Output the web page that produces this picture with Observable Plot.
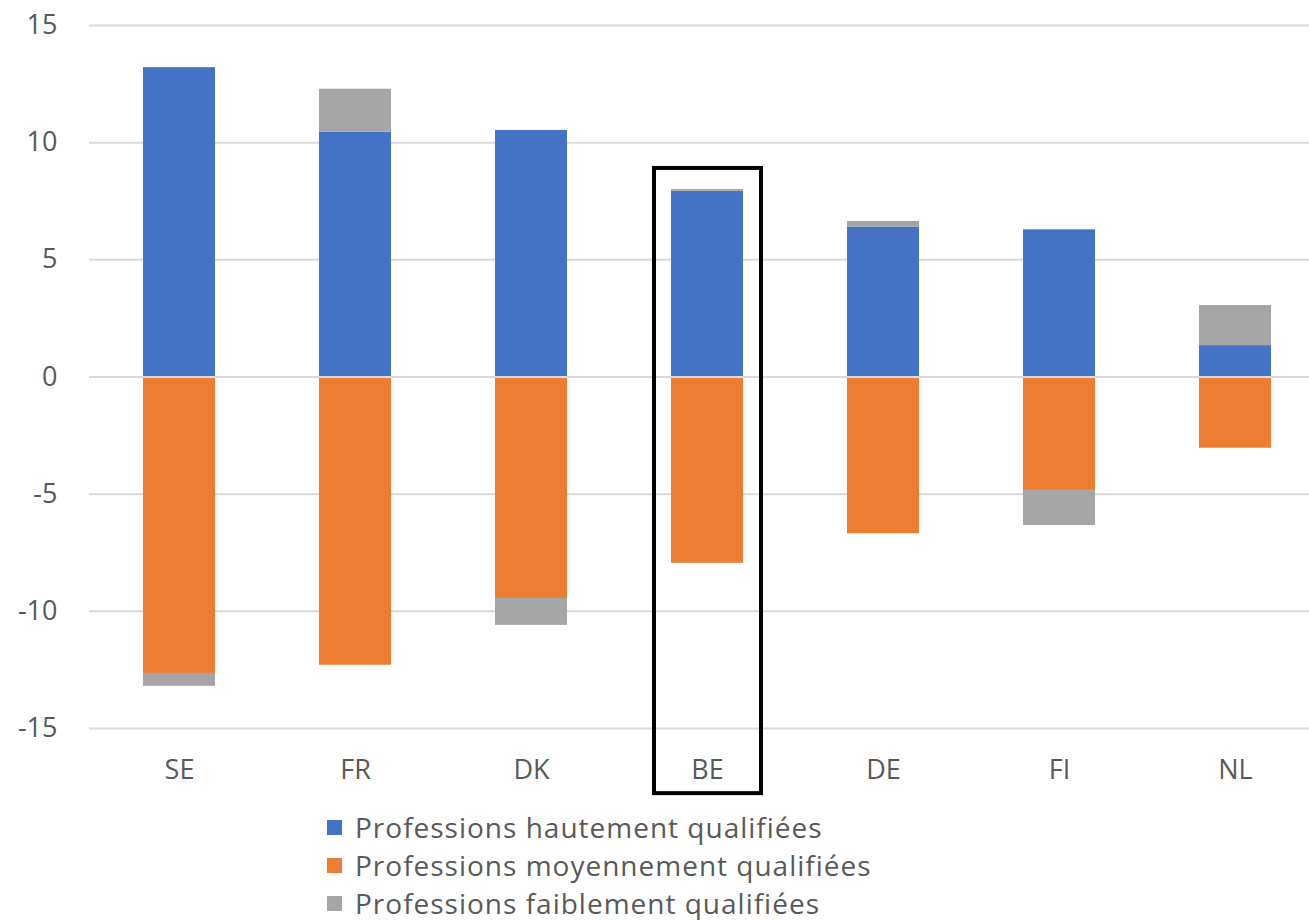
<!DOCTYPE html>
<html>
<head>
<meta charset="utf-8">
<script src="https://cdn.jsdelivr.net/npm/d3@7"></script>
<script src="https://cdn.jsdelivr.net/npm/@observablehq/plot@0.6"></script>
<style>
  html, body { margin: 0; padding: 0; background: #fff; }
  #chart { width: 1309px; font-family: "Open Sans", "Noto Sans", sans-serif; }
  .legend { margin-left: 327px; margin-top: 8px; }
  .legend .row { display: flex; align-items: center; height: 38px; font-size: 28px; letter-spacing: 1px; color: #595959; }
  .legend .sw { width: 15px; height: 15px; margin-right: 13px; }
</style>
</head>
<body>
<div id="chart"></div>
<script>
const countries = ["SE", "FR", "DK", "BE", "DE", "FI", "NL"];
const seriesNames = ["Professions hautement qualifiées", "Professions moyennement qualifiées", "Professions faiblement qualifiées"];
const seriesColors = ["#4472C4", "#ED7D31", "#A5A5A5"];
const high   = [13.2, 10.45, 10.52, 7.93, 6.4, 6.28, 1.34];
const medium = [-12.65, -12.3, -9.45, -7.95, -6.69, -4.84, -3.04];
const low    = [-0.55, 1.83, -1.15, 0.07, 0.24, -1.5, 1.71];
const yTicks = [-15, -10, -5, 0, 5, 10, 15];
const highlight = [{country: "BE", top: 8.9, bottom: -17.78}];

const seriesValues = [high, medium, low];
const data = [];
seriesNames.forEach((s, si) => {
  countries.forEach((c, ci) => data.push({country: c, series: s, value: seriesValues[si][ci]}));
});

const plot = Plot.plot({
  width: 1309,
  height: 800,
  marginLeft: 89,
  marginRight: 0,
  marginTop: 25,
  marginBottom: 72,
  style: {fontFamily: "'Open Sans', 'Noto Sans', sans-serif", background: "#fff"},
  x: {domain: countries, range: [91, 1323], paddingInner: 0.59, paddingOuter: 0.295, label: null},
  y: {domain: [-15, 15], label: null},
  color: {domain: seriesNames, range: seriesColors},
  marks: [
    Plot.ruleY(yTicks, {stroke: "#d9d9d9", strokeWidth: 2}),
    Plot.barY(data, {x: "country", y: "value", fill: "series", order: seriesNames}),
    Plot.ruleY([0], {stroke: "#d9d9d9", strokeWidth: 2}),
    Plot.axisY({ticks: yTicks, tickFormat: d => String(d), tickSize: 0, tickPadding: 32, fontSize: 27, fill: "#595959", label: null}),
    Plot.axisX({tickSize: 0, tickPadding: 31, fontSize: 27, fill: "#595959", label: null}),
    Plot.barY(highlight, {x: "country", y1: "top", y2: "bottom", fill: "none", stroke: "#000", strokeWidth: 4, insetLeft: -17, insetRight: -18, clip: false})
  ]
});

const root = document.getElementById("chart");
root.appendChild(plot);
const legend = document.createElement("div");
legend.className = "legend";
seriesNames.forEach((s, i) => {
  const row = document.createElement("div");
  row.className = "row";
  const sw = document.createElement("span");
  sw.className = "sw";
  sw.style.background = seriesColors[i];
  const t = document.createElement("span");
  t.textContent = s;
  row.appendChild(sw); row.appendChild(t);
  legend.appendChild(row);
});
root.appendChild(legend);
</script>
</body>
</html>
